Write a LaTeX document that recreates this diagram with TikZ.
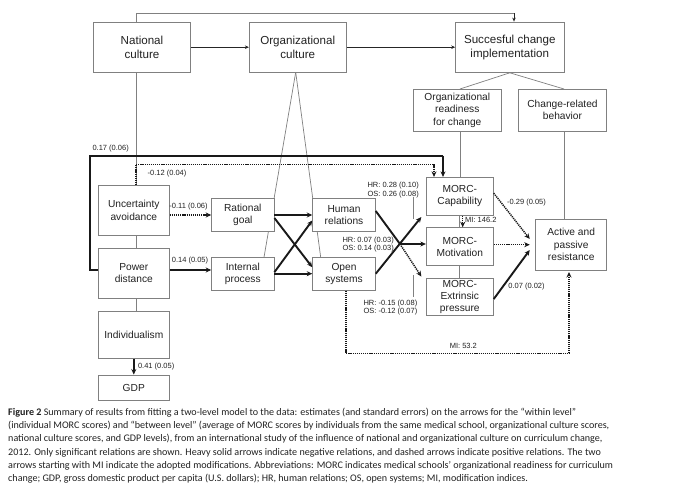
\documentclass[tikz,border=0pt]{standalone}
\usepackage{fontspec}
\setmainfont{Liberation Sans}
\newfontfamily\capfont{Carlito}
\usetikzlibrary{arrows.meta,calc}
\definecolor{boxgray}{HTML}{808080}
\definecolor{txt}{HTML}{222222}
\begin{document}
\begin{tikzpicture}[x=1pt,y=-1pt,
 bigbox/.style={draw=boxgray,line width=0.9pt,fill=white,inner sep=0pt,align=center,font=\fontsize{11.6}{14}\selectfont,text=txt},
 smbox/.style={draw=boxgray,line width=0.9pt,fill=white,inner sep=0pt,align=center,font=\fontsize{10.2}{12.4}\selectfont,text=txt},
 lab/.style={font=\fontsize{7.5}{8.6}\selectfont,inner sep=0pt,text=txt},
 thin/.style={draw=boxgray,line width=0.7pt},
 thinarr/.style={draw=black!85,line width=0.7pt,-{Stealth[length=4pt,width=3.5pt]}},
 heavy/.style={draw=black!90,line width=1.9pt},
 heavyarr/.style={heavy,-{Stealth[length=5.5pt,width=5pt]}},
 dots/.style={draw=black!90,line width=1.5pt,dash pattern=on 1.2pt off 0.9pt},
 dotsarr/.style={dots,-{Stealth[length=5.5pt,width=5pt]}},
 capline/.style={anchor=west,inner sep=0pt,font=\capfont\fontsize{10.1}{12}\selectfont,text=txt},
]
\fill[white] (0,0) rectangle (683,487);
\useasboundingbox (0,0) rectangle (683,487);

% helper coordinates
\coordinate (vx) at (136,13.3);
\coordinate (vtop) at (514,13.3);
\coordinate (tl) at (90,155.7);
\coordinate (tr) at (443,155.7);
\coordinate (dl) at (136,164.3);
\coordinate (dr) at (434,164.3);
\coordinate (pdy) at (0,270);
\coordinate (X) at (400,244);
\coordinate (mbl) at (346,353.3);
\coordinate (mbr) at (569,353.3);
\coordinate (orl) at (460,89);
\coordinate (crl) at (564,89);
\coordinate (mix) at (462.7,0);

% thin gray lines behind boxes
\coordinate (orgapex) at (295.7,72.3);
\coordinate (ipt) at (264,257.3);
\coordinate (ost) at (320.7,257.3);
\draw[thin] (orgapex) -- (ipt);
\draw[thin] (orgapex) -- (ost);

% boxes
\node[bigbox,minimum width=97.4pt,minimum height=50.3pt] (nat) at (142,47.2) {National\\culture};
\node[bigbox,minimum width=96.7pt,minimum height=50.3pt] (org) at (297.7,47.2) {Organizational\\culture};
\node[bigbox,minimum width=108.3pt,minimum height=50.3pt] (suc) at (509.8,47.2) {Succesful change\\implementation};
\node[smbox,minimum width=88pt,minimum height=42pt] (ord) at (457.3,110) {Organizational\\readiness\\for change};
\node[smbox,minimum width=88.4pt,minimum height=42pt] (crb) at (562.5,110) {Change-related\\behavior};
\node[smbox,minimum width=71pt,minimum height=49.3pt] (ua) at (133.8,210.3) {Uncertainty\\avoidance};
\node[smbox,minimum width=71pt,minimum height=50pt] (pd) at (133.8,273.3) {Power\\distance};
\node[smbox,minimum width=71pt,minimum height=46.6pt] (ind) at (133.8,335) {Individualism};
\node[smbox,minimum width=71pt,minimum height=25pt] (gdp) at (133.8,387.5) {GDP};
\node[smbox,minimum width=62.3pt,minimum height=33.4pt] (rg) at (242.8,215) {Rational\\goal};
\node[smbox,minimum width=62.3pt,minimum height=32.7pt] (ip) at (242.8,273.7) {Internal\\process};
\node[smbox,minimum width=62.6pt,minimum height=33.4pt] (hr) at (344,215) {Human\\relations};
\node[smbox,minimum width=62.6pt,minimum height=32.7pt] (os) at (344,273.7) {Open\\systems};
\node[smbox,minimum width=67pt,minimum height=37.7pt] (cap) at (459.8,196.2) {MORC-\\Capability};
\node[smbox,minimum width=67pt,minimum height=38pt] (mot) at (459.8,246.7) {MORC-\\Motivation};
\node[smbox,minimum width=67pt,minimum height=37.4pt] (ext) at (459.8,297) {MORC-\\Extrinsic\\pressure};
\node[smbox,minimum width=71pt,minimum height=50.7pt] (apr) at (571.2,244.7) {Active and\\passive\\resistance};

% top structure
\draw[thinarr] (nat.east) -- (org.west);
\draw[thinarr] (org.east) -- (suc.west);
\draw[thin] (nat.north -| vx) -- (vx) -- (vtop);
\draw[thinarr] (vtop) -- (suc.north -| vtop);
\draw[thin] (suc.south) -- (orl);
\draw[thin] (suc.south) -- (crl);
\draw[thin] (ord.south -| orl) -- (cap.north -| orl);
\draw[thin] (crb.south -| crl) -- (apr.north -| crl);
\draw[thin] (nat.south -| vx) -- (ua.north -| vx);
\draw[thin] (ua.south -| vx) -- (pd.north -| vx);
\draw[thin] (pd.south -| vx) -- (ind.north -| vx);
\draw[thin] ($(cap.south)+(-0.8,0)$) -- ($(mot.north)+(-0.8,0)$);
\draw[thin] (mot.south) -- (ext.north);

% national culture arrows
\draw[heavy] (pd.west |- pdy) -| (tl) -- (tr);
\draw[heavyarr] (tr) -- (cap.north -| tr);
\node[lab] (l017) at (110.7,149) {0.17 (0.06)};
\draw[dots] (ua.north -| dl) -- (dl) -- (dr);
\draw[dotsarr] (dr) -- (cap.north -| dr);
\node[lab] (l012) at (167,174) {-0.12 (0.04)};
\draw[dotsarr] (ua.east |- rg.west) -- (rg.west);
\node[lab] (l011) at (188.5,206.7) {-0.11 (0.06)};
\draw[heavyarr] (pd.east |- pdy) -- (ip.west |- pdy);
\node[lab] (l014) at (190,260.7) {0.14 (0.05)};
\draw[heavyarr] (ind.south) -- (gdp.north);
\node[lab,anchor=west] (l041) at (137.8,366.7) {0.41 (0.05)};

% organizational culture cross
\draw[heavyarr] (rg.east) -- (hr.west);
\draw[heavyarr] ($(rg.east)+(0,3)$) -- ($(os.west)+(0,-6.5)$);
\draw[heavyarr] ($(ip.east)+(0,-1.5)$) -- ($(hr.west)+(0,5.5)$);
\draw[heavyarr] (ip.east) -- (os.west);

% to MORC
\draw[heavy] ($(hr.east)+(0,-4)$) -- (X);
\draw[dotsarr] (X) -- ($(ext.north west)+(-4.5,-1.3)$);
\draw[heavyarr] (os.east) -- ($(cap.south west)+(-4.5,1.5)$);
\draw[heavyarr] (X) -- (mot.west |- X);
\node[lab,align=left,anchor=north east] (lcap) at (419,182) {HR: 0.28 (0.10)\\OS: 0.26 (0.08)};
\coordinate (lc1) at (413.3,196.7);
\coordinate (lc2) at (413.3,219);
\draw[thin] (lc1) -- (lc2);
\node[lab,align=left,anchor=west] (lmot) at (342.3,244.5) {HR: 0.07 (0.03)\\OS: 0.14 (0.03)};
\node[lab,align=left,anchor=north east] (lext) at (417.5,299.5) {HR: -0.15 (0.08)\\OS: -0.12 (0.07)};
\coordinate (le1) at (413.3,275);
\coordinate (le2) at (413.3,296.7);
\draw[thin] (le1) -- (le2);

% MORC to resistance
\draw[dotsarr] ($(cap.east)+(0,-3)$) -- ($(apr.west)+(-5.5,-5.7)$);
\draw[dotsarr] (mot.east |- apr.west) -- ($(apr.west)+(-5.5,0)$);
\draw[heavyarr] ($(ext.east)+(0,2)$) -- ($(apr.west)+(-5.5,5.3)$);
\node[lab] (l029) at (526.5,202.7) {-0.29 (0.05)};
\node[lab] (l007) at (526.5,286.7) {0.07 (0.02)};
\draw[dotsarr] (cap.south -| mix) -- (mot.north -| mix);
\node[lab,anchor=west] (lmi1) at (465,219.7) {MI: 146.2};
\draw[dots] (os.south -| mbl) -- (mbl) -- (mbr);
\draw[dotsarr] (mbr) -- ($(apr.south -| mbr)+(0,1.5)$);
\node[lab] (lmi2) at (463.3,346) {MI: 53.2};

% caption
\node[capline] (c1) at (8,412.5) {\textbf{Figure 2} Summary of results from fitting a two-level model to the data: estimates (and standard errors) on the arrows for the “within level”};
\node[capline] (c2) at (8,425.8) {(individual MORC scores) and “between level” (average of MORC scores by individuals from the same medical school, organizational culture scores,};
\node[capline] (c3) at (8,439.1) {national culture scores, and GDP levels), from an international study of the influence of national and organizational culture on curriculum change,};
\node[capline] (c4) at (8,452.4) {2012. Only significant relations are shown. Heavy solid arrows indicate negative relations, and dashed arrows indicate positive relations. The two};
\node[capline] (c5) at (8,465.7) {arrows starting with MI indicate the adopted modifications. Abbreviations: MORC indicates medical schools’ organizational readiness for curriculum};
\node[capline] (c6) at (8,479) {change; GDP, gross domestic product per capita (U.S. dollars); HR, human relations; OS, open systems; MI, modification indices.};
\end{tikzpicture}
\end{document}
